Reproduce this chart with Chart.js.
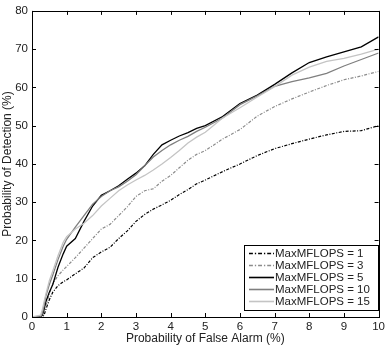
<!DOCTYPE html>
<html>
<head>
<meta charset="utf-8">
<script src="https://cdn.jsdelivr.net/npm/chart.js@4/dist/chart.umd.min.js"></script>
<style>
  html, body { margin: 0; padding: 0; background: #fff; }
  #wrap { width: 388px; height: 347px; }
</style>
</head>
<body>
<div id="wrap"><canvas id="roc"></canvas></div>
<script>
// false alarm rate (%) shared by all curves
const falseAlarm = [0, 0.25, 0.3, 0.35, 0.4, 0.5, 0.6, 0.75, 0.9, 1, 1.25, 1.5, 1.75, 2, 2.25, 2.5, 2.75, 3, 3.25, 3.5, 3.75, 4, 4.25, 4.5, 4.75, 5, 5.5, 6, 6.5, 7, 7.5, 8, 8.5, 9, 9.5, 10];

// detection rate (%) per MaxMFLOPS budget
const pd1 = [0, 0, 0, 0.5, 2, 4.5, 6.5, 8.2, 9.2, 9.7, 11.3, 12.8, 15.5, 17, 18.2, 20.5, 22.5, 25, 26.8, 28.2, 29.3, 30.5, 32, 33.3, 34.8, 35.8, 38, 40, 42.2, 44, 45.3, 46.5, 47.6, 48.5, 48.7, 50];
const pd3 = [0, 0, 1, 2, 3, 6, 8.7, 10.8, 12.3, 13.2, 15.5, 18, 20.5, 23, 24.2, 26.5, 28.8, 31.5, 33, 33.5, 35.5, 37, 39, 41, 42.5, 43.5, 46.5, 49, 52.5, 55, 57, 58.8, 60.5, 62, 63, 64.2];
const pd5 = [0, 0, 0.5, 2, 4, 6.5, 8.5, 13, 16.5, 18.5, 20.5, 25, 29, 31.8, 33, 34.3, 36, 37.6, 39.5, 42.5, 45, 46.2, 47.3, 48.2, 49.3, 50, 52.4, 55.8, 58, 60.8, 63.8, 66.5, 68, 69.3, 70.6, 73.2];
const pd10 = [0, 0, 1, 3, 5.5, 8.5, 11, 15, 18.5, 20.3, 23.5, 26.5, 29.5, 31.5, 33, 34, 35.5, 37.2, 39.5, 41.8, 43.5, 45, 46.2, 47.2, 48.5, 49.6, 52, 55.5, 57.8, 60.3, 61.5, 62.5, 63.7, 65.6, 67.3, 69];
const pd15 = [0, 0.5, 2, 4, 6, 9.5, 12, 16, 19.5, 21, 23, 24.5, 26.5, 29, 31, 33, 34.5, 35.8, 37, 38.4, 40, 41.7, 43.5, 45.5, 47, 48.3, 52, 54.7, 57.5, 60.2, 63.2, 65.3, 66.8, 67.6, 68.7, 70];

const seriesLabels = ['MaxMFLOPS = 1', 'MaxMFLOPS = 3', 'MaxMFLOPS = 5', 'MaxMFLOPS = 10', 'MaxMFLOPS = 15'];
const xTicks = [0, 1, 2, 3, 4, 5, 6, 7, 8, 9, 10];
const yTicks = [0, 10, 20, 30, 40, 50, 60, 70, 80];

const FONT = 'Liberation Sans, Arial, Helvetica, sans-serif';
const TEXT = '#222';

const styles = [
  { color: '#000000', width: 1.2, dash: [3, 1.5, 1, 1.5] },
  { color: '#8c8c8c', width: 1.2, dash: [3, 1.5, 1, 1.5] },
  { color: '#000000', width: 1.3, dash: [] },
  { color: '#7f7f7f', width: 1.3, dash: [] },
  { color: '#c4c4c4', width: 1.3, dash: [] },
];

const series = [pd1, pd3, pd5, pd10, pd15];

const datasets = series.map((ys, i) => ({
  label: seriesLabels[i],
  data: ys.map((y, k) => ({ x: falseAlarm[k], y })),
  borderColor: styles[i].color,
  borderWidth: styles[i].width,
  borderDash: styles[i].dash,
  pointRadius: 0,
  tension: 0,
  fill: false,
  order: series.length - i,
}));

// box around the axes with inward ticks on all four sides
const axesBox = {
  id: 'axesBox',
  afterDatasetsDraw(chart) {
    const { ctx, chartArea: a, scales } = chart;
    const len = 4;
    ctx.save();
    ctx.strokeStyle = '#000';
    ctx.lineWidth = 1;
    ctx.beginPath();
    for (const v of xTicks) {
      const px = Math.round(scales.x.getPixelForValue(v)) + 0.5;
      ctx.moveTo(px, a.bottom); ctx.lineTo(px, a.bottom - len);
      ctx.moveTo(px, a.top); ctx.lineTo(px, a.top + len);
    }
    for (const v of yTicks) {
      const py = Math.round(scales.y.getPixelForValue(v)) + 0.5;
      ctx.moveTo(a.left, py); ctx.lineTo(a.left + len, py);
      ctx.moveTo(a.right, py); ctx.lineTo(a.right - len, py);
    }
    ctx.stroke();
    ctx.strokeRect(Math.round(a.left) + 0.5, Math.round(a.top) + 0.5,
      Math.round(a.right - a.left), Math.round(a.bottom - a.top));
    ctx.restore();
  },
};

// framed legend in the lower right corner of the plot
const boxLegend = {
  id: 'boxLegend',
  afterDraw(chart) {
    const { ctx, chartArea: a } = chart;
    const rowH = 12;
    const w = 134, h = 65;
    const right = Math.round(a.right) - 1;
    const bottom = Math.round(a.bottom) - 7;
    const left = right - w, top = bottom - h;
    ctx.save();
    ctx.fillStyle = '#fff';
    ctx.fillRect(left, top, w, h);
    ctx.strokeStyle = '#000';
    ctx.lineWidth = 1;
    ctx.setLineDash([]);
    ctx.strokeRect(left + 0.5, top + 0.5, w, h);
    ctx.font = '11.5px ' + FONT;
    ctx.textBaseline = 'middle';
    chart.data.datasets.forEach((ds, i) => {
      const y = top + 8.5 + i * rowH;
      ctx.strokeStyle = ds.borderColor;
      ctx.lineWidth = ds.borderWidth + 0.3;
      ctx.setLineDash(ds.borderDash.map((d) => d * 1.3));
      ctx.beginPath();
      ctx.moveTo(left + 5, y);
      ctx.lineTo(left + 30, y);
      ctx.stroke();
      ctx.fillStyle = TEXT;
      ctx.fillText(ds.label, left + 31, y);
    });
    ctx.restore();
  },
};

new Chart(document.getElementById('roc'), {
  type: 'line',
  data: { datasets },
  options: {
    responsive: true,
    maintainAspectRatio: false,
    animation: false,
    layout: { padding: { left: 0, right: 7, top: 4, bottom: 0 } },
    plugins: {
      legend: { display: false },
      tooltip: { enabled: false },
    },
    scales: {
      x: {
        type: 'linear',
        min: 0,
        max: 10,
        afterFit: (s) => { s.height = 30; },
        afterBuildTicks: (s) => { s.ticks = xTicks.map((v) => ({ value: v })); },
        grid: { display: false, drawTicks: false },
        border: { display: false },
        ticks: { color: TEXT, padding: 3, font: { family: FONT, size: 11.5 } },
        title: {
          display: true,
          text: 'Probability of False Alarm (%)',
          color: TEXT,
          padding: { top: 0, bottom: 1 },
          font: { family: FONT, size: 12 },
        },
      },
      y: {
        type: 'linear',
        min: 0,
        max: 80,
        afterFit: (s) => { s.width = 32; },
        afterBuildTicks: (s) => { s.ticks = yTicks.map((v) => ({ value: v })); },
        grid: { display: false, drawTicks: false },
        border: { display: false },
        ticks: { color: TEXT, padding: 4, font: { family: FONT, size: 11.5 } },
        title: {
          display: true,
          text: 'Probability of Detection (%)',
          color: TEXT,
          padding: { top: 0, bottom: 0 },
          font: { family: FONT, size: 12 },
        },
      },
    },
  },
  plugins: [axesBox, boxLegend],
});
</script>
</body>
</html>
